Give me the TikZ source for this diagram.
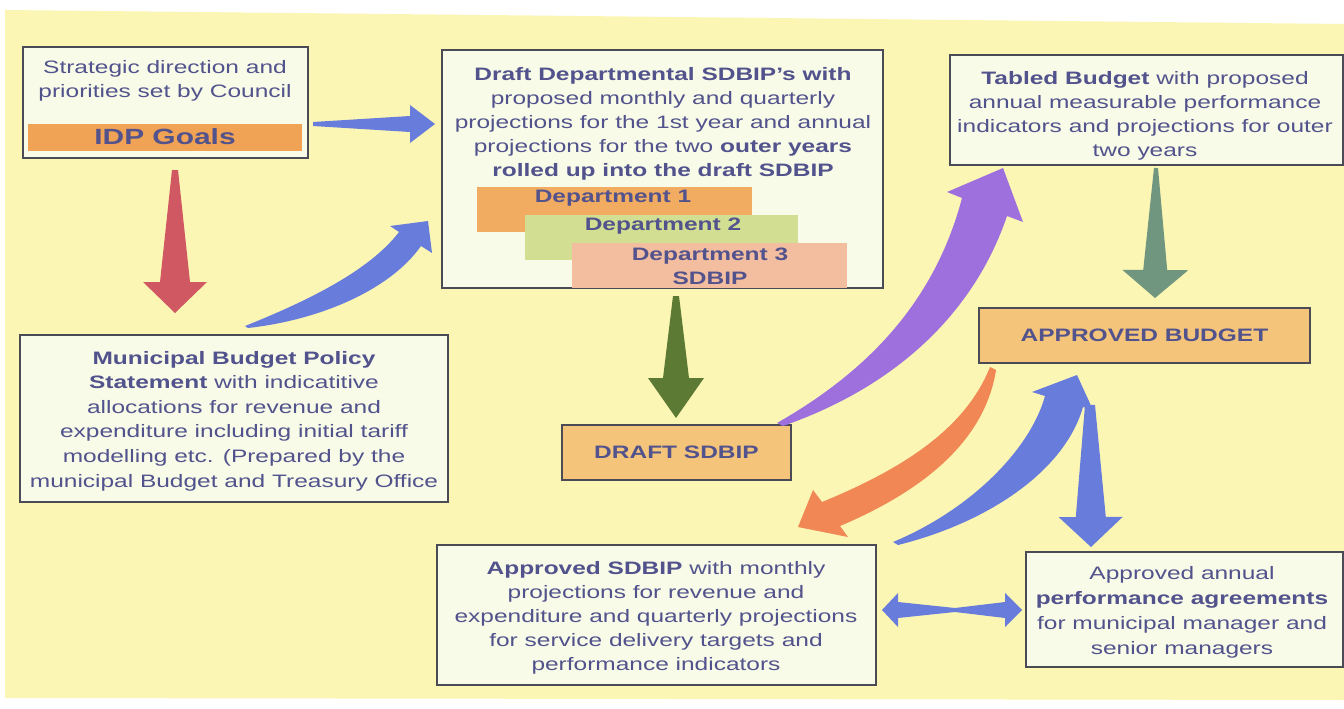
\documentclass[tikz,border=0pt]{standalone}
\usepackage{fontspec}
\setmainfont{Liberation Sans}[FakeStretch=1.36]
\usetikzlibrary{calc}

\definecolor{paper}{RGB}{252,246,180}
\definecolor{boxfill}{RGB}{247,251,232}
\definecolor{boxline}{RGB}{75,75,85}
\definecolor{inktext}{RGB}{82,82,140}
\definecolor{idporange}{RGB}{240,163,85}
\definecolor{deptone}{RGB}{241,172,98}
\definecolor{depttwo}{RGB}{210,222,145}
\definecolor{deptthree}{RGB}{243,190,160}
\definecolor{budgetorange}{RGB}{243,196,122}
\definecolor{arrowblue}{RGB}{104,124,220}
\definecolor{arrowred}{RGB}{207,88,98}
\definecolor{arrowgreen}{RGB}{92,122,52}
\definecolor{arrowteal}{RGB}{112,150,128}
\definecolor{arrowpurple}{RGB}{158,112,222}
\definecolor{arroworange}{RGB}{240,135,85}

\tikzset{
  panel/.style={draw=boxline, line width=1.2pt, fill=boxfill, inner sep=0pt},
  stage/.style={draw=boxline, line width=1.2pt, fill=budgetorange, inner sep=0pt,
    text=inktext, font=\bfseries\fontsize{18}{22}\selectfont},
  words/.style={align=center, text=inktext, inner sep=0pt,
    font=\fontsize{18}{24}\selectfont},
  strip/.style={inner sep=0pt},
}

% tapered block arrow: colour, tail, tip, tail half-width, shaft half-width,
% head half-width, head length
\newcommand{\taper}[7]{%
  \coordinate (tb) at ($(#3)!#7!(#2)$);
  \fill[#1] ($(#2)!#4!90:(#3)$) -- ($(tb)!#5!90:(#3)$) -- ($(tb)!#6!90:(#3)$) -- (#3)
    -- ($(tb)!#6!-90:(#3)$) -- ($(tb)!#5!-90:(#3)$) -- ($(#2)!#4!-90:(#3)$) -- cycle;}

\begin{document}
\begin{tikzpicture}[x=1pt,y=-1pt]
        \useasboundingbox (0,0) rectangle (1344,709);
        % Draw the paper.
        \fill[white] (0,0) rectangle (1344,709);
        \fill[paper] (5,10) -- (1344,24) -- (1344,700) -- (5,698) -- cycle;
        % Council box with the IDP goals.
        \node[panel, minimum width=285pt, minimum height=111pt] (council) at (165.5,102.5) {};
        \node[words] (counciltext) at (165,81) {Strategic direction and\\priorities set by Council};
        \node[strip, fill=idporange, minimum width=274pt, minimum height=27pt,
          text=inktext, font=\bfseries\fontsize{22}{24}\selectfont] (goals) at (165,137) {IDP Goals};
        % Draft departmental SDBIP box.
        \node[panel, minimum width=441pt, minimum height=238pt] (draftdept) at (662.5,169) {};
        \node[words] (draftdepttext) at (663,124) {\textbf{Draft Departmental SDBIP's with}\\
          proposed monthly and quarterly\\
          projections for the 1st year and annual\\
          projections for the two \textbf{outer years}\\
          \textbf{rolled up into the draft SDBIP}};
        \node[strip, fill=deptone, minimum width=275pt, minimum height=45pt] (deptone) at (614.5,209.5) {};
        \node[words, font=\bfseries\fontsize{18}{24}\selectfont] (deptonetext) at (613,198) {Department 1};
        \node[strip, fill=depttwo, minimum width=273pt, minimum height=45pt] (depttwo) at (661.5,237.5) {};
        \node[words, font=\bfseries\fontsize{18}{24}\selectfont] (depttwotext) at (663,226) {Department 2};
        \node[strip, fill=deptthree, minimum width=275pt, minimum height=45pt] (deptthree) at (709.5,265.5) {};
        \node[words, font=\bfseries\fontsize{18}{24}\selectfont] (deptthreetext) at (710,266) {Department 3\\SDBIP};
        % Tabled budget box.
        \node[panel, minimum width=393pt, minimum height=110pt] (tabled) at (1146.5,110) {};
        \node[words] (tabledtext) at (1145,115.5) {\textbf{Tabled Budget} with proposed\\
          annual measurable performance\\
          indicators and projections for outer\\
          two years};
        % Approved budget and draft SDBIP.
        \node[stage, minimum width=331pt, minimum height=55pt] (budget) at (1144.5,335.5) {APPROVED BUDGET};
        \node[stage, minimum width=229pt, minimum height=55pt] (draftsdbip) at (676.5,452.5) {DRAFT SDBIP};
        % Budget policy statement box.
        \node[panel, minimum width=428pt, minimum height=167pt] (policy) at (234,418.5) {};
        \node[words, font=\fontsize{18}{24.6}\selectfont] (policytext) at (234,421) {\textbf{Municipal Budget Policy}\\
          \textbf{Statement} with indicatitive\\
          allocations for revenue and\\
          expenditure including initial tariff\\
          modelling etc. (Prepared by the\\
          municipal Budget and Treasury Office};
        % Approved SDBIP box.
        \node[panel, minimum width=439pt, minimum height=140pt] (sdbip) at (656.5,615) {};
        \node[words] (sdbiptext) at (656,618) {\textbf{Approved SDBIP} with monthly\\
          projections for revenue and\\
          expenditure and quarterly projections\\
          for service delivery targets and\\
          performance indicators};
        % Performance agreements box.
        \node[panel, minimum width=317pt, minimum height=115pt] (agreements) at (1184.5,609.5) {};
        \node[words, font=\fontsize{18}{25}\selectfont] (agreementstext) at (1182,612) {Approved annual\\
          \textbf{performance agreements}\\
          for municipal manager and\\
          senior managers};
        % Straight arrows.
        \coordinate (a) at (313,124);  \coordinate (b) at (435,124);
        \taper{arrowblue}{a}{b}{2pt}{8pt}{19pt}{25pt}
        \coordinate (c) at (175,170);  \coordinate (d) at (175,313);
        \taper{arrowred}{c}{d}{3pt}{15pt}{32pt}{31pt}
        \coordinate (e) at (676,296);  \coordinate (f) at (676,418);
        \taper{arrowgreen}{e}{f}{3pt}{13pt}{28pt}{40pt}
        \coordinate (g) at (1156,168); \coordinate (h) at (1155,298);
        \taper{arrowteal}{g}{h}{2pt}{12pt}{33pt}{28pt}
        \coordinate (i) at (1090,405); \coordinate (j) at (1091,547);
        \taper{arrowblue}{i}{j}{5pt}{15pt}{32pt}{30pt}
        % Curved arrows.
        \fill[arrowblue] (245,326) .. controls (310,300) and (370,270) .. (399,232) -- (390,226) -- (428,221)
          -- (432,253) -- (421,246) .. controls (390,290) and (320,320) .. (248,328) -- cycle;
        \fill[arrowpurple] (777,423) .. controls (870,370) and (935,300) .. (962,198) -- (947,192) -- (1003,168)
          -- (1023,222) -- (1007,216) .. controls (975,310) and (900,385) .. (783,426) -- cycle;
        \fill[arroworange] (990,367) .. controls (965,430) and (900,470) .. (822,502) -- (813,490) -- (798,527)
          -- (848,537) -- (840,526) .. controls (925,490) and (985,440) .. (996,370) -- cycle;
        \fill[arrowblue] (893,542) .. controls (970,510) and (1030,450) .. (1045,396) -- (1032,392) -- (1077,375)
          -- (1093,410) -- (1083,407) .. controls (1065,470) and (990,522) .. (898,545) -- cycle;
        % Double arrow.
        \fill[arrowblue] (882,610) -- (898,593) -- (898,602) -- (955,608) -- (1005,602) -- (1005,593)
          -- (1022,610) -- (1005,627) -- (1005,618) -- (955,612) -- (898,618) -- (898,627) -- cycle;
    \end{tikzpicture}
\end{document}
